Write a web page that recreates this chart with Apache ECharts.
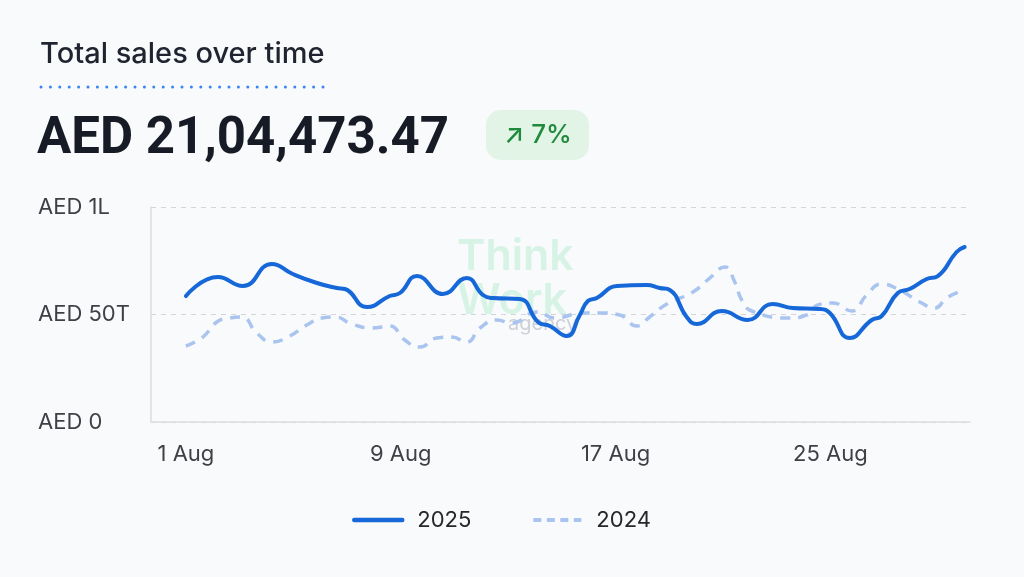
<!DOCTYPE html>
<html>
<head>
<meta charset="utf-8">
<script src="https://cdn.jsdelivr.net/npm/echarts@6/dist/echarts.min.js"></script>
<style>
html,body{margin:0;padding:0;background:#f9fafb;}
#chart{width:1024px;height:577px;}
</style>
</head>
<body>
<div id="chart"></div>
<script>
// ---- data (x = days after 1 Aug) ----
const xTickDays = [0, 8, 16, 24];
const xTickLabels = ['1 Aug', '9 Aug', '17 Aug', '25 Aug'];
const yTickValues = [0, 50000, 100000];
const yTickLabels = ['AED 0', 'AED 50T', 'AED 1L'];
const seriesNames = ['2025', '2024'];
const days2025 = [0, 1.19, 2.12, 3.2, 3.98, 4.88, 5.62, 5.92, 6.74, 7.59, 7.97, 8.6, 9.57, 10.46,
  11.06, 11.43, 12.43, 13.11, 13.55, 14.18, 14.67, 14.97, 15.3, 16.05, 17.16, 17.65, 18.02,
  18.65, 19.02, 19.96, 20.92, 21.85, 22.6, 23.6, 23.98, 24.72, 25.54, 25.91, 26.51, 26.95,
  27.59, 28.0, 28.7, 29.0];
const sales2025 = [58600, 67440, 63250, 73490, 68830, 64650, 62320, 61860, 53490, 58600, 60000, 67900, 59530, 66970,
  59070, 57670, 57210, 46510, 44650, 40000, 49770, 56280, 57670, 63250, 63720, 62320, 61390,
  48840, 45580, 51630, 47440, 54880, 53020, 52560, 50700, 39070, 47440, 49300, 60000, 61860,
  66510, 67900, 79070, 81390];
const days2024 = [0, 0.63, 1.15, 1.64, 2.08, 2.64, 3.2, 3.8, 4.5, 5.06, 5.55, 6.18, 6.92, 7.59,
  8.15, 8.71, 9.34, 9.9, 10.46, 10.95, 11.58, 12.14, 13.07, 13.74, 14.78, 15.41, 16.16, 16.79,
  17.27, 17.91, 18.88, 19.51, 20.07, 20.44, 20.7, 21.07, 22.49, 23.12, 23.53, 24.09, 24.8,
  25.35, 25.91, 26.58, 27.33, 27.89, 28.33, 28.89];
const sales2024 = [35350, 39530, 46510, 48370, 48840, 41390, 37210, 39530, 45110, 48370, 48840, 45580, 43720, 44650,
  38140, 34880, 39070, 39530, 37210, 43720, 47440, 46040, 51160, 48370, 50700, 50700, 49770, 44650,
  48840, 54880, 60460, 66970, 72090, 65110, 56740, 51630, 48370, 49770, 54420, 55350, 51630,
  59070, 64180, 61390, 55810, 53020, 57670, 60930];
const titleText = 'Total sales over time';
const totalText = 'AED 21,04,473.47';
const changeText = '↗ 7%';

// ---- chart ----
const toPoints = (xs, vs) => vs.map((v, i) => [xs[i], v]);
const font = 'Inter, Roboto, "Noto Sans", sans-serif';
const chart = echarts.init(document.getElementById('chart'), null, {renderer: 'canvas'});
chart.setOption({
  backgroundColor: '#f9fafb',
  animation: false,
  grid: {left: 151, top: 207, width: 819, height: 215, containLabel: false},
  xAxis: {
    type: 'value', min: -1.3, max: 29.2,
    axisLine: {show: true, onZero: false, lineStyle: {color: '#dcdde1', width: 1.5}},
    axisTick: {show: false},
    splitLine: {show: false},
    axisLabel: {
      customValues: xTickDays,
      formatter: v => xTickLabels[xTickDays.indexOf(Math.round(v))] || '',
      color: '#3f3f46', fontSize: 22, fontFamily: font, margin: 21
    }
  },
  yAxis: {
    type: 'value', min: 0, max: 100000, interval: 50000,
    axisLine: {show: true, onZero: false, lineStyle: {color: '#dcdde1', width: 1.5}},
    axisTick: {show: false},
    splitLine: {show: true, lineStyle: {color: '#d4d5da', type: [5, 5], width: 1}},
    axisLabel: {
      formatter: v => yTickLabels[yTickValues.indexOf(v)],
      color: '#3f3f46', fontSize: 22, fontFamily: font,
      align: 'left', margin: 113
    }
  },
  legend: {
    left: 347, top: 504,
    itemWidth: 48, itemHeight: 14, itemGap: 60,
    itemStyle: {color: 'transparent', borderWidth: 0, opacity: 0},
    textStyle: {color: '#27272a', fontSize: 22, fontFamily: font, padding: [0, 0, 0, 10]},
    data: [
      {name: seriesNames[0], lineStyle: {width: 4.5, cap: 'round'}},
      {name: seriesNames[1], lineStyle: {width: 4, type: [8, 5.5]}}
    ]
  },
  graphic: [
    {type: 'text', left: 40, top: 40, z: 10,
      style: {text: titleText, font: '500 29px ' + font, fill: '#1f2430'}},
    {type: 'line', z: 10, shape: {x1: 41, y1: 87, x2: 324, y2: 87},
      style: {stroke: '#3b82f6', lineWidth: 3, lineDash: [0, 9.4], lineCap: 'round'}},
    {type: 'text', left: 37, top: 115, z: 10,
      style: {text: totalText, font: 'bold 51px Roboto, Inter, sans-serif', fill: '#161b26'}},
    {type: 'rect', z: 10, shape: {x: 486, y: 110, width: 103, height: 50, r: 15},
      style: {fill: '#e1f4e5'}},
    {type: 'text', z: 11, x: 538, y: 135,
      style: {text: changeText, font: '500 26px Inter, "DejaVu Sans", sans-serif', fill: '#1f8a3b',
        align: 'center', verticalAlign: 'middle'}},
    {type: 'text', z: 0, left: 457, top: 236,
      style: {text: 'Think', font: '600 43px ' + font, fill: '#d6f3e6'}},
    {type: 'text', z: 0, left: 457, top: 280,
      style: {text: 'Work', font: '600 43px ' + font, fill: '#d6f3e6'}},
    {type: 'text', z: 0, left: 508, top: 314,
      style: {text: 'agency', font: '20px ' + font, fill: '#cfd0d8'}}
  ],
  series: [
    {name: seriesNames[0], type: 'line', data: toPoints(days2025, sales2025), smooth: 0.5,
      symbol: 'none', z: 4,
      lineStyle: {color: '#1668d9', width: 4, cap: 'round', join: 'round'},
      itemStyle: {color: '#1668d9'}},
    {name: seriesNames[1], type: 'line', data: toPoints(days2024, sales2024), smooth: 0.5,
      symbol: 'none', z: 3,
      lineStyle: {color: '#a9c4ef', width: 3.5, type: [10, 8]},
      itemStyle: {color: '#a9c4ef'}}
  ]
});
</script>
</body>
</html>
